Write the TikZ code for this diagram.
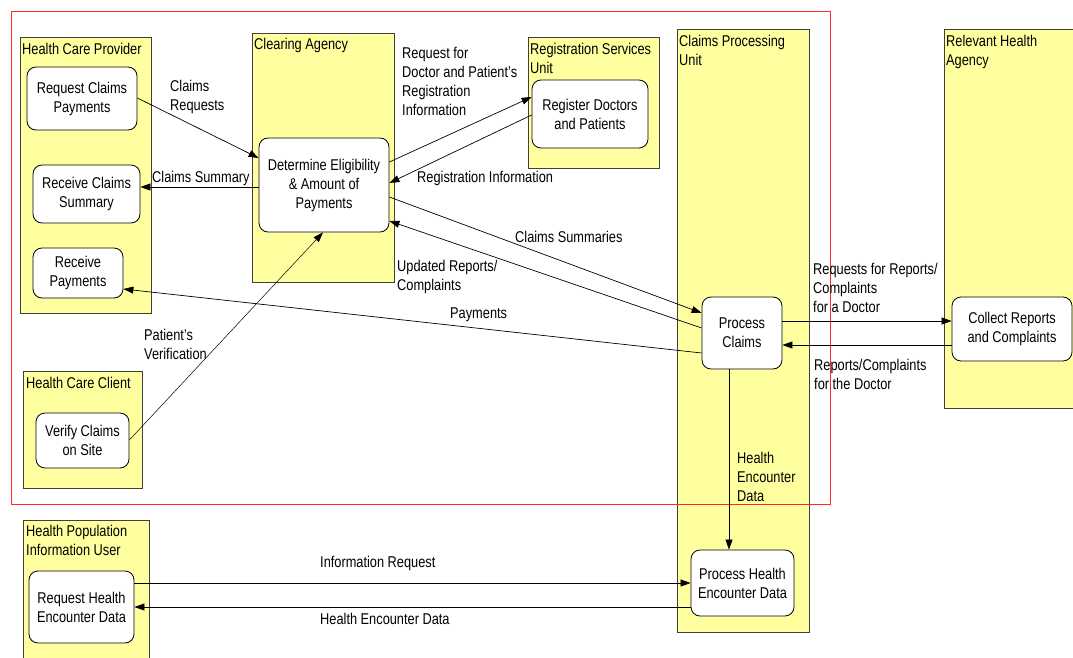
\documentclass[tikz,border=0pt]{standalone}
\usepackage{fontspec}
\setmainfont{Liberation Sans}[FakeStretch=0.82]
\usetikzlibrary{arrows.meta}
\definecolor{laneyellow}{RGB}{255,255,160}
\definecolor{frame}{RGB}{255,40,40}
\begin{document}
\begin{tikzpicture}[x=1pt,y=-1pt,
  every node/.style={font=\fontsize{15.6}{19}\selectfont},
  lane/.style={draw=black!75, fill=laneyellow, line width=0.8pt, inner sep=0pt},
  lanetitle/.style={anchor=north west, inner sep=0pt, align=left},
  proc/.style={draw=black, fill=white, rounded corners=9pt, line width=0.8pt, align=center, inner sep=0pt},
  flow/.style={-{Triangle[length=10pt,width=7pt]}, line width=0.7pt},
  lbl/.style={inner sep=0pt, align=left}]
\clip (0,0) rectangle (1073,658);
\fill[white] (0,0) rectangle (1073,658);

% swim lanes
\node[lane, minimum width=131, minimum height=276] (hcp) at (85.5,175) {};
\node[lane, minimum width=142, minimum height=249] (ca)  at (323,157.5) {};
\node[lane, minimum width=131, minimum height=131] (rsu) at (593.5,102.5) {};
\node[lane, minimum width=132, minimum height=603] (cpu) at (743,330.5) {};
\node[lane, minimum width=141, minimum height=379] (rha) at (1014.5,218.5) {};
\node[lane, minimum width=119, minimum height=117] (hcc) at (82.5,429.5) {};
\node[lane, minimum width=126, minimum height=150] (hpu) at (86,595) {};

% lane titles
\node[lanetitle] (thcp) at (22,43) {Health Care Provider};
\node[lanetitle] (tca)  at (254,38) {Clearing Agency};
\node[lanetitle] (trsu) at (530,43) {Registration Services\\Unit};
\node[lanetitle] (tcpu) at (679,35) {Claims Processing\\Unit};
\node[lanetitle] (trha) at (946,35) {Relevant Health\\Agency};
\node[lanetitle] (thcc) at (26,377) {Health Care Client};
\node[lanetitle] (thpu) at (26,525) {Health Population\\Information User};

% processes
\node[proc, minimum width=110, minimum height=63] (rcp) at (82,98.5) {Request Claims\\Payments};
\node[proc, minimum width=107, minimum height=58] (rcs) at (86.5,194) {Receive Claims\\Summary};
\node[proc, minimum width=90, minimum height=50] (rp) at (78,273) {Receive\\Payments};
\node[proc, minimum width=130, minimum height=94] (det) at (324,185) {Determine Eligibility\\\& Amount of\\Payments};
\node[proc, minimum width=116, minimum height=68] (reg) at (590,114) {Register Doctors\\and Patients};
\node[proc, minimum width=80, minimum height=72] (pc) at (742,333) {Process\\Claims};
\node[proc, minimum width=120, minimum height=64] (col) at (1012,329) {Collect Reports\\and Complaints};
\node[proc, minimum width=93, minimum height=55] (vc) at (82.5,440.5) {Verify Claims\\on Site};
\node[proc, minimum width=105, minimum height=72] (rhe) at (81.5,607) {Request Health\\Encounter Data};
\node[proc, minimum width=103, minimum height=66] (phe) at (742.5,583) {Process Health\\Encounter Data};

% scope frame
\draw[frame, line width=0.9pt] (11,11) rectangle (830,504);

% data flows
\draw[flow] (rcp.east |- 0,98) -- (det.west |- 0,158);
\draw[flow] (det.west |- 0,187) -- (rcs.east |- 0,187);
\draw[flow] (det.east |- 0,162) -- (reg.west |- 0,97);
\draw[flow] (reg.west |- 0,115) -- (det.east |- 0,183);
\draw[flow] (det.east |- 0,197) -- (pc.west |- 0,313);
\draw[flow] (pc.west |- 0,328) -- (det.east |- 0,221);
\draw[flow] (pc.west |- 0,353) -- (rp.east |- 0,289);
\draw[flow, line width=0.5pt] (vc.east |- 0,440) -- (det.south -| 323,0);
\draw[flow] (pc.east |- 0,321) -- (col.west |- 0,321);
\draw[flow] (col.west |- 0,345) -- (pc.east |- 0,345);
\draw[flow] (pc.south -| 729,0) -- (phe.north -| 729,0);
\draw[flow] (rhe.east |- 0,583) -- (phe.west |- 0,583);
\draw[flow] (phe.west |- 0,607) -- (rhe.east |- 0,607);

% flow labels
\node[lbl, anchor=north west] (lcr) at (170,80) {Claims\\Requests};
\node[lbl, anchor=west] (lcs) at (152,178) {Claims Summary};
\node[lbl, anchor=north west] (lreq) at (402,47) {Request for\\Doctor and Patient's\\Registration\\Information};
\node[lbl, anchor=west] (lri) at (417,178) {Registration Information};
\node[lbl, anchor=west] (lcsum) at (515,237) {Claims Summaries};
\node[lbl, anchor=north west] (lupd) at (397,260) {Updated Reports/\\Complaints};
\node[lbl, anchor=west] (lpay) at (450,315) {Payments};
\node[lbl, anchor=north west] (lpv) at (144,329) {Patient's\\Verification};
\node[lbl, anchor=north west] (lrfr) at (813,263) {Requests for Reports/\\Complaints\\for a Doctor};
\node[lbl, anchor=north west] (lrc) at (814,359) {Reports/Complaints\\for the Doctor};
\node[lbl, anchor=north west] (lhed) at (737,452) {Health\\Encounter\\Data};
\node[lbl, anchor=west] (lir) at (320,563) {Information Request};
\node[lbl, anchor=west] (lhe) at (320,619) {Health Encounter Data};
\end{tikzpicture}
\end{document}
